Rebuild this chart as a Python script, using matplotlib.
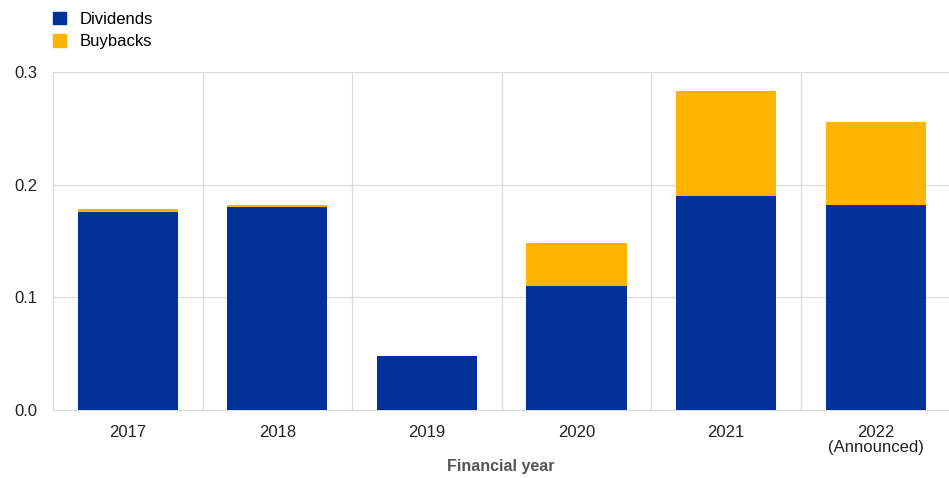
import matplotlib.pyplot as plt
from matplotlib.patches import Patch

# Data
years = ["2017", "2018", "2019", "2020", "2021", "2022\n(Announced)"]
dividends = [0.176, 0.180, 0.048, 0.110, 0.190, 0.182]
buybacks = [0.002, 0.002, 0.0, 0.038, 0.093, 0.074]
yticks = [0.0, 0.1, 0.2, 0.3]

blue = "#003299"
yellow = "#ffb400"
grid = "#dcdcdc"

plt.rcParams['font.family'] = ['Liberation Sans', 'DejaVu Sans']

fig = plt.figure(figsize=(9.49, 4.78), dpi=100)
ax = fig.add_axes([53 / 949, 68 / 478, 1 - 53 / 949, 338 / 478])

x = range(len(years))
ax.bar(x, dividends, width=0.67, color=blue, zorder=3)
ax.bar(x, buybacks, width=0.67, bottom=dividends, color=yellow, zorder=3)

ax.set_xlim(-0.5, len(years) - 0.5 - 0.01)
ax.set_ylim(0, 0.3)
ax.set_yticks(yticks)
ax.set_yticklabels([f"{v:.1f}" for v in yticks])
ax.set_xticks(list(x))
ax.set_xticklabels(years, linespacing=1.0)

# grid lines: horizontal at ticks, vertical between categories
ax.yaxis.grid(True, color=grid, linewidth=1, zorder=0)
for i in range(len(years) - 1):
    ax.axvline(i + 0.5, color=grid, linewidth=1, zorder=0)

for side in ["top", "right"]:
    ax.spines[side].set_visible(False)
ax.spines["left"].set_color(grid)
ax.spines["bottom"].set_color(grid)
ax.tick_params(length=0, labelsize=12, colors="#222222")
ax.tick_params(axis="x", pad=11)
ax.tick_params(axis="y", pad=11)

fig.text(501 / 949, 1 - 467 / 478, "Financial year", fontsize=11.5, fontweight="bold",
         color="#555555", ha="center", va="center")

handles = [Patch(color=blue, label="Dividends"), Patch(color=yellow, label="Buybacks")]
fig.legend(handles=handles, loc="upper left", bbox_to_anchor=(46 / 949, 1 - 5 / 478),
           frameon=False, fontsize=12, handlelength=0.8, handleheight=0.8,
           handletextpad=0.8, labelspacing=0.42, borderaxespad=0)

fig.savefig("out.png", dpi=100)
